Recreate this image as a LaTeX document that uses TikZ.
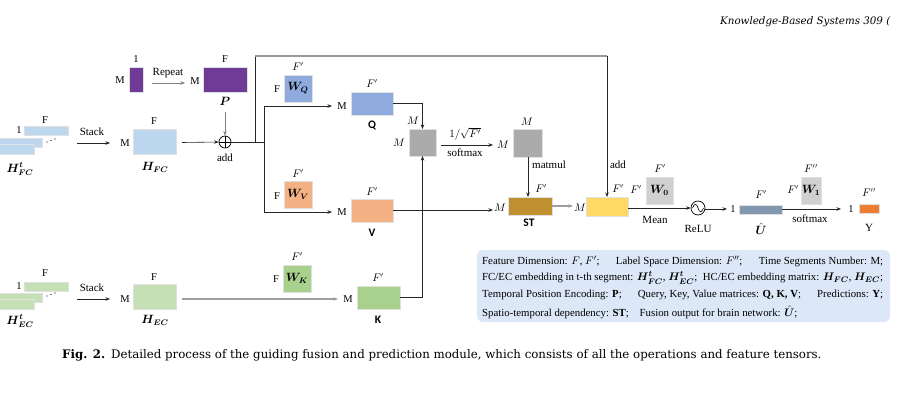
\documentclass[tikz,border=0pt]{standalone}
\usepackage{amsmath}
\usepackage{bm}
\usepackage{fontspec}
\setmainfont{Liberation Serif}
\newfontfamily\capfont{DejaVu Serif}
\newfontfamily\sansb{Carlito}
\usetikzlibrary{arrows.meta}
\definecolor{cpurple}{HTML}{703B97}
\definecolor{chfc}{HTML}{BDD7EE}
\definecolor{chec}{HTML}{C5E0B4}
\definecolor{cq}{HTML}{8FAADC}
\definecolor{cv}{HTML}{F4B183}
\definecolor{ck}{HTML}{A9D18E}
\definecolor{cgray}{HTML}{ABABAB}
\definecolor{clgray}{HTML}{D0D0D0}
\definecolor{cst}{HTML}{BF9030}
\definecolor{cyel}{HTML}{FFD966}
\definecolor{cu}{HTML}{8497B0}
\definecolor{cy}{HTML}{ED7D31}
\definecolor{cleg}{HTML}{DCE8F8}
\newcommand{\legsep}{\hspace{0.45em plus 1fill}}
\tikzset{
  bx/.style={draw=black!12, line width=0.6pt, inner sep=0pt, outer sep=0pt},
  lab/.style={font=\fontsize{10.5}{12}\selectfont, inner sep=0pt},
  op/.style={font=\fontsize{11}{13}\selectfont, inner sep=0pt},
  wl/.style={font=\fontsize{12}{14}\selectfont, inner sep=0pt},
  sl/.style={font=\fontsize{11.5}{13}\selectfont\sansb\bfseries, inner sep=0pt},
  legl/.style={font=\fontsize{10.8}{12}\selectfont, inner sep=0pt, anchor=west},
  arr/.style={-{Stealth[length=4.5pt,width=3.5pt]}, line width=0.6pt, draw=black!85},
  garr/.style={-{Stealth[length=4.5pt,width=3.5pt]}, line width=1.4pt, draw=black!38},
  ln/.style={line width=0.6pt, draw=black!85},
}
\begin{document}
\begin{tikzpicture}[x=1pt,y=-1pt]
\useasboundingbox (0,0) rectangle (900,400);
\fill[white] (0,0) rectangle (900,400);

% header
\node[anchor=west, inner sep=0pt, font=\fontsize{10.3}{12}\selectfont\capfont\itshape] (hdr) at (720,22) {Knowledge-Based Systems 309 (};

% ---------- P branch ----------
\node[bx, fill=cpurple, minimum width=14, minimum height=25] (pin) at (136,79.5) {};
\node[lab] (pin1) at (136,59) {1};
\node[lab] (pinM) at (120,80) {M};
\node[op] (rep) at (168,73) {Repeat};
\node[bx, fill=cpurple, minimum width=44, minimum height=25] (P) at (225,79.5) {};
\node[lab] (PM) at (195,81) {M};
\node[lab] (PF) at (225,59) {F};
\node[wl] (Pl) at (225,101) {$\bm{P}$};
\coordinate (repa) at (152,83);
\coordinate (repb) at (185,83);
\draw[arr, draw=black!50] (repa) -- (repb);

% ---------- HFC ----------
\node[bx, fill=chfc, minimum width=44, minimum height=9] (fs1) at (46,130.5) {};
\node[bx, fill=chfc, minimum width=44, minimum height=9] (fs2) at (20,142.5) {};
\node[bx, fill=chfc, minimum width=44, minimum height=10] (fs3) at (12,149) {};
\node[lab] (fsF) at (45,120) {F};
\node[lab] (fs1l) at (19,130) {1};
\fill (47,142) circle (0.7) (51,140.5) circle (0.7) (55,139) circle (0.7);
\node[wl] (fsl) at (20,169) {$\bm{H}^{\bm{t}}_{\bm{FC}}$};
\node[op] (stk1) at (92,132) {Stack};
\coordinate (stk1a) at (77,143);
\coordinate (stk1b) at (110,143);
\draw[arr] (stk1a) -- (stk1b);
\node[bx, fill=chfc, minimum width=43, minimum height=25] (HFC) at (154.5,141.5) {};
\node[lab] (HFCM) at (125,143) {M};
\node[lab] (HFCF) at (154,121) {F};
\node[wl] (HFCl) at (155,167) {$\bm{H}_{\bm{FC}}$};

% add
\node[circle, draw=black, line width=0.7pt, minimum size=12, inner sep=0pt] (add) at (225,142) {};
\draw[line width=0.7pt] (add.north) -- (add.south) (add.west) -- (add.east);
\node[op] (addl) at (225,158) {add};
\draw[arr] (HFC.east) ++(6,1) -- (add.west);
\draw[arr, draw=black!50, line width=0.9pt] (Pl.south) ++(0,7) -- (add.north);

% branches
\coordinate (j1) at (255,142);
\coordinate (j2) at (264,142);
\coordinate (jq) at (264,106);
\coordinate (jv) at (264,212);
\coordinate (top1) at (255,56);
\coordinate (top2) at (607,56);
\draw[ln] (add.east) -- (j2);
\draw[ln] (jq) -- (jv);
\draw[ln] (j1) -- (top1);
\draw[line width=1.2pt, draw=black!40] (top1) -- (top2);

% Q / V
\node[bx, fill=cq, minimum width=28, minimum height=27] (WQ) at (298,88.5) {};
\node[wl] at (WQ) {$\bm{W_Q}$};
\node[lab] (WQF1) at (298,67) {$F'$};
\node[lab] (WQF) at (277,89) {F};
\node[bx, fill=cq, minimum width=42, minimum height=23] (Q) at (372,103.5) {};
\node[lab] (QM) at (342,106) {M};
\node[lab] (QF) at (372,84) {$F'$};
\node[sl] (Ql) at (372,125) {Q};
\coordinate (qa) at (332,106);
\draw[arr] (jq) -- (qa);

\node[bx, fill=cv, minimum width=28, minimum height=27] (WV) at (298,194.5) {};
\node[wl] at (WV) {$\bm{W_V}$};
\node[lab] (WVF1) at (298,174) {$F'$};
\node[lab] (WVF) at (277,196) {F};
\node[bx, fill=cv, minimum width=42, minimum height=23] (V) at (372,210.5) {};
\node[lab] (VM) at (342,212) {M};
\node[lab] (VF) at (372,192) {$F'$};
\node[sl] (Vl) at (372,233) {V};
\coordinate (va) at (332,212);
\draw[arr] (jv) -- (va);

% ---------- HEC ----------
\node[bx, fill=chec, minimum width=44, minimum height=9] (es1) at (46,286.5) {};
\node[bx, fill=chec, minimum width=44, minimum height=9] (es2) at (20,297.5) {};
\node[bx, fill=chec, minimum width=44, minimum height=10] (es3) at (12,304) {};
\node[lab] (esF) at (45,273) {F};
\node[lab] (es1l) at (19,286) {1};
\fill (47,296) circle (0.7) (51,294.5) circle (0.7) (55,293) circle (0.7);
\node[wl] (esl) at (20,321) {$\bm{H}^{\bm{t}}_{\bm{EC}}$};
\node[op] (stk2) at (92,288) {Stack};
\coordinate (stk2a) at (77,299);
\coordinate (stk2b) at (110,299);
\draw[arr] (stk2a) -- (stk2b);
\node[bx, fill=chec, minimum width=43, minimum height=25] (HEC) at (154.5,296.5) {};
\node[lab] (HECM) at (125,299) {M};
\node[lab] (HECF) at (154,277) {F};
\node[wl] (HECl) at (155,320) {$\bm{H}_{\bm{EC}}$};

\node[bx, fill=ck, minimum width=28, minimum height=27] (WK) at (297,278.5) {};
\node[wl] at (WK) {$\bm{W_K}$};
\node[lab] (WKF1) at (297,257) {$F'$};
\node[lab] (WKF) at (276,279) {F};
\node[bx, fill=ck, minimum width=43, minimum height=23] (K) at (378.5,297.5) {};
\node[lab] (KM) at (348,299) {M};
\node[lab] (KF) at (378,278) {$F'$};
\node[sl] (Kl) at (378,320) {K};
\coordinate (ka) at (338,299);
\draw[garr] (HEC.east) ++(6,2.5) -- (ka);

% ---------- attention ----------
\node[bx, fill=cgray, minimum width=27, minimum height=27] (G1) at (422.5,142.5) {};
\node[lab] (G1M) at (399,143) {$M$};
\node[lab] (G1Mt) at (413,121) {$M$};
\coordinate (qk) at (422.5,103);
\draw[arr] (Q.east |- qk) -- (qk) -- (G1.north);
\coordinate (kk) at (422.5,297);
\draw[arr] (K.east |- kk) -- (kk) -- (G1.south);

\node[bx, fill=cgray, minimum width=29, minimum height=28] (G2) at (527.5,143) {};
\node[lab] (G2M) at (527,122) {$M$};
\node[lab] (G2Ml) at (503,145) {$M$};
\coordinate (g1a) at (441,145);
\coordinate (g1b) at (493,145);
\draw[arr] (g1a) -- (g1b);
\node[op] (sc) at (465,134) {$1/\sqrt{F'}$};
\node[op] (sm1) at (465,153) {softmax};

\node[bx, fill=cst, minimum width=44, minimum height=18] (ST) at (530,206) {};
\node[lab] (STM) at (500,208) {$M$};
\node[lab] (STF) at (541,189) {$F'$};
\node[sl] (STl) at (529,223) {ST};
\coordinate (g2b) at (528,157);
\coordinate (stt) at (528,197);
\draw[arr] (g2b) -- (stt);
\node[op] (mm) at (549,165) {matmul};
\coordinate (vst) at (493,210);
\draw[arr] (V.east |- vst) -- (vst);

% ---------- output ----------
\node[bx, fill=cyel, minimum width=42, minimum height=19] (YE) at (607,206.5) {};
\node[lab] (YEM) at (580,208) {$M$};
\node[lab] (YEF) at (618,189) {$F'$};
\node[op] (add2) at (618,165) {add};
\coordinate (sty) at (573,206);
\draw[garr] (ST.east) -- (sty);
\draw[arr] (top2) -- (YE.north -| top2);

\node[bx, fill=clgray, minimum width=27, minimum height=27] (W0) at (659.5,190.5) {};
\node[wl] at (W0) {$\bm{W_0}$};
\node[lab] (W0F1) at (660,169) {$F'$};
\node[lab] (W0F) at (636,190) {$F'$};

\node[circle, draw=black, line width=0.7pt, minimum size=14, inner sep=0pt] (relu) at (698,208) {};
\draw[line width=0.6pt] (692.5,208) .. controls (694.5,203) and (696.5,203) .. (698,208) .. controls (699.5,213) and (701.5,213) .. (703.5,208);
\node[op] (relul) at (698,229) {ReLU};
\draw[arr] (YE.east |- relu) -- (relu.west);
\node[op] (mean) at (655,220) {Mean};

\node[bx, fill=cu, minimum width=43, minimum height=9] (U) at (760.5,209.5) {};
\node[lab] (U1) at (733,209) {1};
\node[lab] (UF) at (761,195) {$F'$};
\node[wl] (Ul) at (761,229) {$\bm{\hat{U}}$};
\coordinate (ua) at (727,209);
\draw[arr] (relu.east |- ua) -- (ua);

\node[bx, fill=clgray, minimum width=20, minimum height=27] (W1) at (811,190.5) {};
\node[wl] at (W1) {$\bm{W_1}$};
\node[lab] (W1F1) at (811,169) {$F''$};
\node[lab] (W1F) at (793,190) {$F'$};

\node[bx, fill=cy, minimum width=20, minimum height=9] (Y) at (869,208.5) {};
\node[lab] (Y1) at (851,209) {1};
\node[lab] (YF) at (869,193) {$F''$};
\node[op] (Yl) at (869,228) {Y};
\coordinate (ya) at (841,209);
\draw[arr] (U.east |- ya) -- (ya);
\node[op] (sm2) at (810,219) {softmax};

% ---------- legend ----------
\node[fill=cleg, rounded corners=6pt, minimum width=413, minimum height=72, inner sep=0pt] (leg) at (683.5,286) {};
\node[legl] (lg1) at (482,261) {\makebox[401pt][l]{Feature Dimension: $F$, $F'$;\legsep Label Space Dimension: $F''$;\legsep Time Segments Number: M;}};
\node[legl] (lg2) at (482,278) {\makebox[401pt][l]{FC/EC embedding in t-th segment: $\bm{H}^{\bm{t}}_{\bm{FC}}$, $\bm{H}^{\bm{t}}_{\bm{EC}}$;\legsep HC/EC embedding matrix: $\bm{H}_{\bm{FC}}$, $\bm{H}_{\bm{EC}}$;}};
\node[legl] (lg3) at (482,295) {\makebox[401pt][l]{Temporal Position Encoding: \textbf{P};\legsep Query, Key, Value matrices: \textbf{Q, K, V};\legsep Predictions: \textbf{Y};}};
\node[legl] (lg4) at (482,312) {Spatio-temporal dependency: \textbf{ST};\quad Fusion output for brain network: $\bm{\hat{U}}$;};

% ---------- caption ----------
\node[anchor=west, inner sep=0pt, font=\fontsize{11.8}{13}\selectfont\capfont] (cap) at (62,355) {\textbf{Fig. 2.}\enspace Detailed process of the guiding fusion and prediction module, which consists of all the operations and feature tensors.};
\end{tikzpicture}
\end{document}
